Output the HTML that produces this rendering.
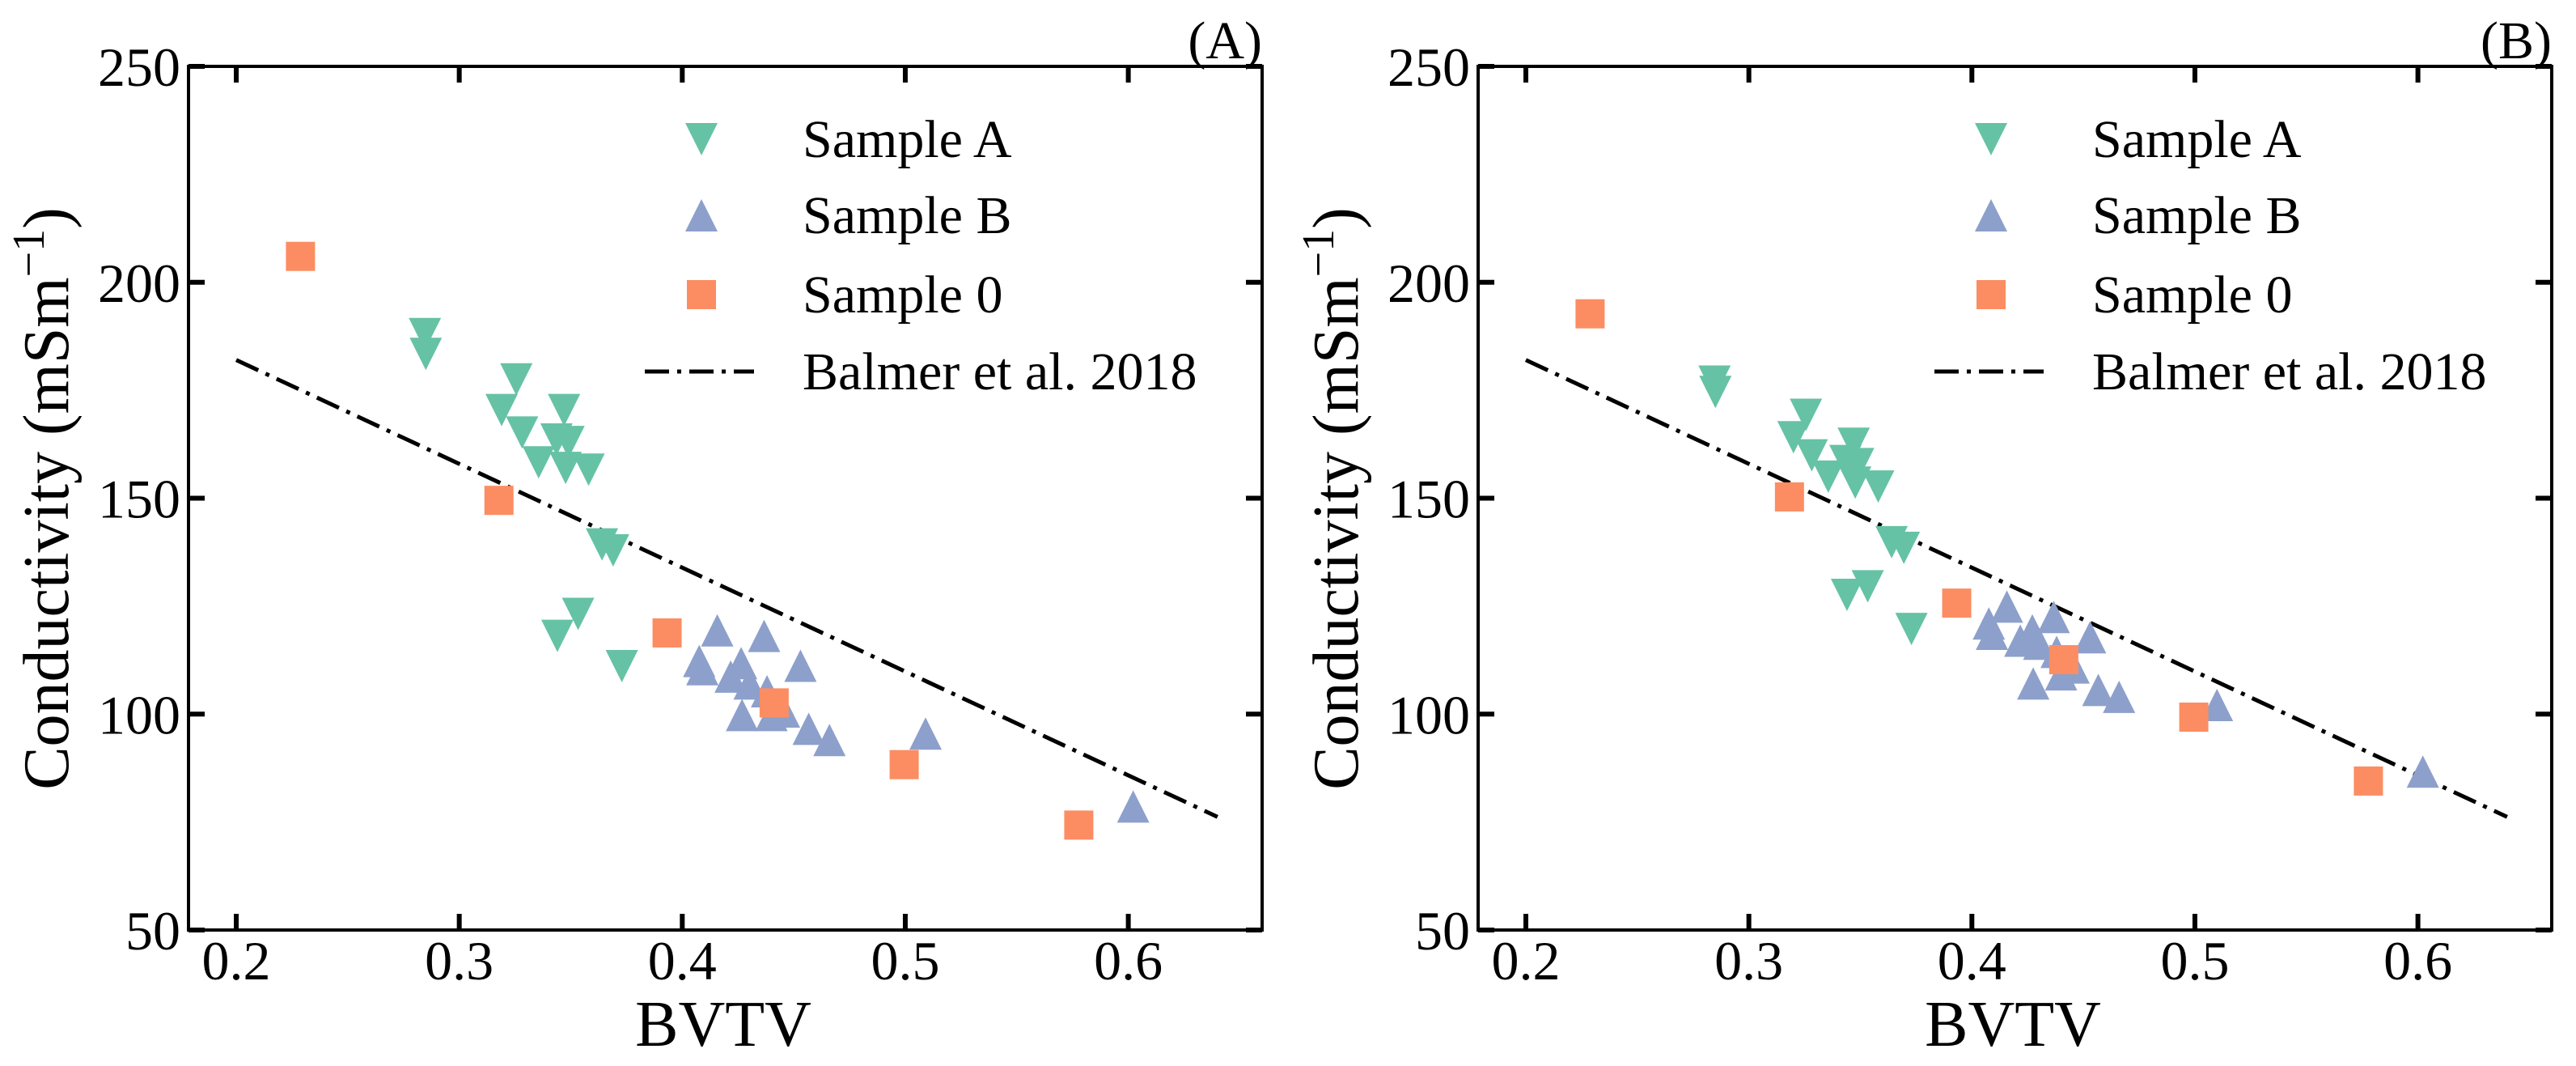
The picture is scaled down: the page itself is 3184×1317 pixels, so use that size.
<!DOCTYPE html>
<html><head><meta charset="utf-8">
<style>
html,body{margin:0;padding:0;background:#fff;}
svg, svg text{font-family:"Liberation Serif","DejaVu Serif",serif;}
</style></head>
<body>
<svg id="chart" width="3184" height="1312" viewBox="0 0 3184 1312" xmlns="http://www.w3.org/2000/svg" font-family="Liberation Serif, DejaVu Serif, serif"></svg>
<script>
const xTicks = [0.2, 0.3, 0.4, 0.5, 0.6];
const xTickLabels = ["0.2", "0.3", "0.4", "0.5", "0.6"];
const yTicks = [50, 100, 150, 200, 250];
const yTickLabels = ["50", "100", "150", "200", "250"];
const lineX = [0.2, 0.64];
const lineY = [182, 76.2];

const aAx = [0.2846,0.285,0.3256,0.319,0.347,0.3282,0.3436,0.349,0.3356,0.3477,0.358,0.364,0.369,0.344,0.3533,0.3729];
const aAy = [188,183.4,177.5,170.4,170.4,165.2,163.6,163,158.3,157,156.6,139.3,137.9,118.1,123.2,111.1];
const aBx = [0.4157,0.4367,0.4076,0.409,0.4264,0.4217,0.4302,0.438,0.453,0.4268,0.44,0.4456,0.4567,0.466,0.5091,0.6022];
const aBy = [119.4,118.1,112.3,110.4,111.8,108.7,107.1,105.3,111.2,99.8,99.8,100.6,96.6,94,95.5,78.6];
const a0x = [0.2288,0.3178,0.3932,0.4412,0.4995,0.5778];
const a0y = [206,149.5,118.8,102.6,88.3,74.3];

const bAx = [0.2846,0.285,0.3256,0.32,0.347,0.3282,0.3433,0.349,0.3356,0.3477,0.358,0.364,0.3695,0.344,0.3533,0.3729];
const bAy = [177,174.6,169.3,164.1,162.6,159.9,158.6,157.9,155,153.6,152.7,139.8,138.5,127.6,129.6,119.7];
const bBx = [0.4157,0.4367,0.4076,0.409,0.4271,0.4217,0.4302,0.438,0.453,0.4275,0.44,0.4456,0.4567,0.466,0.5099,0.6022];
const bBy = [124.9,122.5,121,118.6,119.4,117,116.3,114.4,117.8,107.1,109.2,110.8,105.6,104,102.1,86.7];
const b0x = [0.2288,0.3182,0.3932,0.4412,0.4995,0.5778];
const b0y = [192.7,150.3,125.7,112.6,99.3,84.5];

const NS = "http://www.w3.org/2000/svg";
const svg = document.getElementById("chart");
const FONT = "'Liberation Serif', 'DejaVu Serif', serif";
function mk(tag, attrs, parent){
  const e = document.createElementNS(NS, tag);
  for (const k in attrs) e.setAttribute(k, attrs[k]);
  if (tag === "text") e.setAttribute("font-family", FONT);
  (parent||svg).appendChild(e);
  return e;
}
const GREEN="#66c2a5", BLUE="#8da0cb", ORANGE="#fc8d62";

function panel(ox, tag, Ax, Ay, Bx, By, Zx, Zy){
  const L=233+ox, R=1560+ox, T=82, B=1149;
  const xmin=0.1786, xmax=0.660, ymin=50, ymax=250;
  const sx = v => L + (v-xmin)/(xmax-xmin)*(R-L);
  const sy = v => B - (v-ymin)/(ymax-ymin)*(B-T);
  const g = mk("g", {});
  
  

  const ln = mk("line", {x1:sx(lineX[0]), y1:sy(lineY[0]), x2:sx(lineX[1]), y2:sy(lineY[1]), stroke:"#000","stroke-width":5,"stroke-dasharray":"30 10 5 10"}, g);
  
  

  const tri = (cx, cy, down, col, parent) => {
    const h=40, w=40;
    const pts = down
      ? `${cx-w/2},${cy-h/2} ${cx+w/2},${cy-h/2} ${cx},${cy+h/2}`
      : `${cx-w/2},${cy+h/2} ${cx+w/2},${cy+h/2} ${cx},${cy-h/2}`;
    return mk("polygon", {points:pts, fill:col}, parent);
  };
  for (let i=0;i<Ax.length;i++){
    const p = tri(sx(Ax[i]), sy(Ay[i]), true, GREEN, g);
    
    
  }
  for (let i=0;i<Bx.length;i++){
    const p = tri(sx(Bx[i]), sy(By[i]), false, BLUE, g);
    
    
  }
  for (let i=0;i<Zx.length;i++){
    const p = mk("rect", {x:sx(Zx[i])-18, y:sy(Zy[i])-18, width:36, height:36, fill:ORANGE}, g);
    
    
  }

  const fr = mk("rect", {x:L, y:T, width:R-L, height:B-T, fill:"none", stroke:"#000","stroke-width":4}, g);
  
  

  xTicks.forEach((v,i)=>{
    const x = sx(v);
    mk("line",{x1:x,y1:B,x2:x,y2:B-20,stroke:"#000","stroke-width":6},g);
    mk("line",{x1:x,y1:T,x2:x,y2:T+20,stroke:"#000","stroke-width":6},g);
    const t = mk("text",{x:x,y:1210,"font-size":68,"text-anchor":"middle"},g);
    t.textContent = xTickLabels[i];
    
    
  });
  yTicks.forEach((v,i)=>{
    const y = sy(v);
    mk("line",{x1:L,y1:y,x2:L+20,y2:y,stroke:"#000","stroke-width":6},g);
    mk("line",{x1:R,y1:y,x2:R-20,y2:y,stroke:"#000","stroke-width":6},g);
    const t = mk("text",{x:L-10,y:y+24,"font-size":68,"text-anchor":"end"},g);
    t.textContent = yTickLabels[i];
    
    
  });

  const xt = mk("text",{x:894+ox,y:1292,"font-size":80,"text-anchor":"middle"},g);
  xt.textContent = "BVTV";
  
  
  const yt = mk("text",{x:0,y:0,"font-size":80,"text-anchor":"middle",transform:`translate(${84+ox},${616}) rotate(-90)`},g);
  yt.innerHTML = 'Conductivity (mSm<tspan dy="-30" font-size="56">−1</tspan><tspan dy="30">)</tspan>';
  
  

  const pl = mk("text",{x:R,y:72,"font-size":66,"text-anchor":"end"},g);
  pl.textContent = "(" + tag + ")";
  
  

  const lg = mk("g",{},g);
  
  
  const mx = 867+ox, tx = 992+ox;
  const rows = [172, 266, 364, 459];
  const labels = ["Sample A","Sample B","Sample 0","Balmer et al. 2018"];
  tri(mx, rows[0], true, GREEN, lg);
  tri(mx, rows[1], false, BLUE, lg);
  mk("rect",{x:mx-18,y:rows[2]-18,width:36,height:36,fill:ORANGE},lg);
  mk("line",{x1:797+ox,y1:rows[3],x2:932+ox,y2:rows[3],stroke:"#000","stroke-width":5,"stroke-dasharray":"30 10 5 10"},lg);
  labels.forEach((s,i)=>{
    const t = mk("text",{x:tx,y:rows[i]+22,"font-size":66},lg);
    t.textContent = s;
    
    
  });
}
panel(0, "A", aAx, aAy, aBx, aBy, a0x, a0y);
panel(1594, "B", bAx, bAy, bBx, bBy, b0x, b0y);
</script>
</body></html>
